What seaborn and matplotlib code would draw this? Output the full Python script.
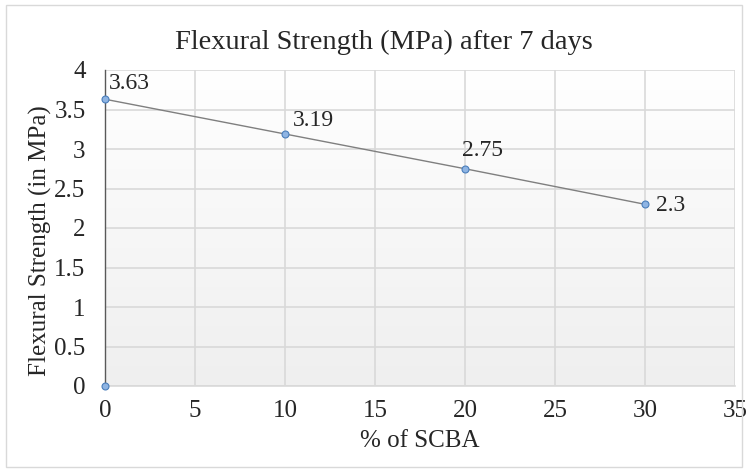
import matplotlib
matplotlib.use("Agg")
import matplotlib.pyplot as plt
import seaborn as sns
import numpy as np
import pandas as pd
from matplotlib.patches import Rectangle
from matplotlib.colors import LinearSegmentedColormap

scba = [0, 10, 20, 30]
strength = [3.63, 3.19, 2.75, 2.3]
labels = ["3.63", "3.19", "2.75", "2.3"]
origin_x = [0]
origin_y = [0]
xticks = [0, 5, 10, 15, 20, 25, 30, 35]
yticks = [0, 0.5, 1, 1.5, 2, 2.5, 3, 3.5, 4]

sns.set_theme(style="white")
plt.rcParams['font.family'] = ['Liberation Serif', 'DejaVu Serif']

df = pd.DataFrame({"x": scba, "y": strength})

fig = plt.figure(figsize=(7.48, 4.72), dpi=100)
ax = fig.add_axes([105/748, 86/472, 630/748, 316/472])
fig.patches.append(Rectangle((6/748, 5/472), 736/748, 462/472, transform=fig.transFigure,
                             fill=False, edgecolor="#d9d9d9", linewidth=1.0))

# gradient background inside plot area (white at top, light grey at bottom)
grad = np.linspace(0, 1, 256).reshape(-1, 1)
cmap = LinearSegmentedColormap.from_list("g", ["#ffffff", "#efefef"])
ax.imshow(grad, aspect="auto", cmap=cmap, origin="upper", extent=[0, 1, 0, 1],
          transform=ax.transAxes, zorder=0)

ax.set_xlim(0, 35)
ax.set_ylim(0, 4)
ax.set_xticks(xticks)
ax.set_yticks(yticks)
ax.set_yticklabels([f"{v:g}" for v in yticks])
ax.grid(True, color="#d9d9d9", linewidth=1.2, zorder=1)
ax.set_axisbelow(True)

sns.lineplot(data=df, x="x", y="y", ax=ax, color="#7f7f7f", linewidth=1.0,
             marker="o", markersize=5, markerfacecolor="#8eb4e3",
             markeredgecolor="#4a7ebb", markeredgewidth=0.8, zorder=3, clip_on=False)
ax.plot(origin_x, origin_y, linestyle="none", marker="o", markersize=5,
        markerfacecolor="#8eb4e3", markeredgecolor="#4a7ebb", markeredgewidth=0.8,
        zorder=4, clip_on=False)

offsets = [(3, 11), (6, 10), (-2, 13), (8, -1)]
for x, y, t, (dx, dy) in zip(scba, strength, labels, offsets):
    ax.annotate(t, (x, y), xytext=(dx, dy), textcoords="offset points",
                fontsize=17, color="#262626", ha="left", va="center")

for s in ["top", "right"]:
    ax.spines[s].set_visible(False)
ax.spines["left"].set_color("#595959")
ax.spines["left"].set_linewidth(1.0)
ax.spines["bottom"].set_color("#d9d9d9")
ax.spines["bottom"].set_linewidth(1.2)

ax.tick_params(axis="both", labelsize=18, colors="#262626", length=0)
ax.tick_params(axis="x", pad=10)
ax.tick_params(axis="y", pad=14)
ax.set_xlabel("% of SCBA", fontsize=18, color="#262626", labelpad=6)
ax.set_ylabel("Flexural Strength (in MPa)", fontsize=18, color="#262626", labelpad=2, y=0.46)
ax.set_title("Flexural Strength (MPa) after 7 days", fontsize=20.5, color="#262626",
             pad=15, x=0.443)

fig.savefig("out.png", dpi=100)
